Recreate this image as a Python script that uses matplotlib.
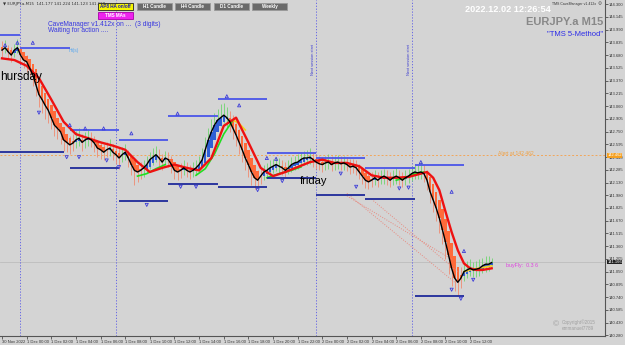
import matplotlib.pyplot as plt
import matplotlib.patches as mpatches
import matplotlib.transforms as mtransforms
import numpy as np

plt.rcParams['font.family'] = ['Liberation Sans', 'DejaVu Sans']

# M15 bars, index 0 = 30 Nov 22:00
closes = [143.74, 143.77, 143.72, 143.68, 143.74, 143.77, 143.68, 143.62, 143.60, 143.52,
          143.44, 143.32, 143.20, 143.14, 143.07, 143.01, 142.92, 142.83, 142.79, 142.75,
          142.65, 142.62, 142.59, 142.61, 142.65, 142.67, 142.62, 142.65, 142.67, 142.65,
          142.61, 142.55, 142.53, 142.50, 142.53, 142.55, 142.50, 142.47, 142.43, 142.47,
          142.50, 142.43, 142.35, 142.28, 142.26, 142.28, 142.31, 142.35, 142.41, 142.44,
          142.47, 142.43, 142.38, 142.43, 142.41, 142.35, 142.28, 142.26, 142.28, 142.31,
          142.28, 142.26, 142.28, 142.31, 142.35, 142.41, 142.53, 142.65, 142.75, 142.83,
          142.89, 142.92, 142.95, 142.92, 142.87, 142.79, 142.71, 142.62, 142.53, 142.43,
          142.35, 142.26, 142.19, 142.16, 142.21, 142.26, 142.28, 142.31, 142.33, 142.35,
          142.33, 142.31, 142.28, 142.31, 142.35, 142.37, 142.38, 142.41, 142.43, 142.43,
          142.44, 142.41, 142.38, 142.36, 142.35, 142.37, 142.38, 142.35, 142.37, 142.38,
          142.36, 142.37, 142.35, 142.32, 142.33, 142.31, 142.26, 142.21, 142.16, 142.14,
          142.16, 142.19, 142.16, 142.19, 142.21, 142.19, 142.16, 142.19, 142.21, 142.19,
          142.16, 142.19, 142.21, 142.24, 142.26, 142.25, 142.26, 142.24, 142.16, 142.02,
          141.92, 141.82, 141.70, 141.56, 141.41, 141.25, 141.09, 140.97, 140.92, 140.97,
          141.05, 141.07, 141.09, 141.07, 141.08, 141.09, 141.12, 141.14, 141.14, 141.16]
highs = [143.85, 143.86, 143.80, 143.78, 143.82, 143.88, 143.79, 143.71, 143.68, 143.63,
         143.55, 143.47, 143.35, 143.25, 143.20, 143.12, 143.05, 142.96, 142.90, 142.85,
         142.78, 142.72, 142.70, 142.72, 142.76, 142.80, 142.72, 142.74, 142.78, 142.75,
         142.70, 142.65, 142.62, 142.60, 142.62, 142.66, 142.60, 142.57, 142.55, 142.56,
         142.60, 142.53, 142.46, 142.40, 142.36, 142.38, 142.40, 142.45, 142.50, 142.55,
         142.58, 142.54, 142.48, 142.52, 142.50, 142.45, 142.38, 142.35, 142.37, 142.40,
         142.38, 142.35, 142.38, 142.41, 142.46, 142.55, 142.68, 142.80, 142.90, 142.98,
         143.02, 143.08, 143.10, 143.05, 143.00, 142.95, 142.85, 142.78, 142.68, 142.58,
         142.48, 142.40, 142.32, 142.28, 142.32, 142.35, 142.37, 142.40, 142.42, 142.44,
         142.43, 142.40, 142.38, 142.40, 142.44, 142.46, 142.48, 142.50, 142.52, 142.53,
         142.55, 142.50, 142.47, 142.45, 142.44, 142.46, 142.48, 142.45, 142.46, 142.47,
         142.45, 142.46, 142.44, 142.42, 142.42, 142.40, 142.36, 142.32, 142.27, 142.24,
         142.26, 142.28, 142.26, 142.28, 142.30, 142.28, 142.26, 142.28, 142.31, 142.28,
         142.26, 142.28, 142.30, 142.33, 142.36, 142.35, 142.38, 142.35, 142.28, 142.18,
         142.06, 141.96, 141.86, 141.72, 141.58, 141.42, 141.25, 141.12, 141.05, 141.10,
         141.16, 141.18, 141.20, 141.17, 141.18, 141.20, 141.22, 141.24, 141.24, 141.22]
lows = [143.66, 143.70, 143.64, 143.60, 143.66, 143.70, 143.60, 143.52, 143.48, 143.40,
        143.30, 143.18, 143.05, 142.98, 142.90, 142.85, 142.78, 142.70, 142.66, 142.60,
        142.52, 142.50, 142.48, 142.52, 142.55, 142.58, 142.52, 142.55, 142.58, 142.56,
        142.50, 142.44, 142.42, 142.40, 142.44, 142.46, 142.40, 142.36, 142.30, 142.38,
        142.40, 142.32, 142.22, 142.10, 142.14, 142.18, 142.20, 142.25, 142.30, 142.35,
        142.38, 142.33, 142.28, 142.34, 142.32, 142.25, 142.18, 142.16, 142.19, 142.22,
        142.20, 142.17, 142.20, 142.22, 142.26, 142.32, 142.40, 142.50, 142.62, 142.70,
        142.78, 142.82, 142.85, 142.80, 142.75, 142.66, 142.58, 142.48, 142.38, 142.28,
        142.20, 142.10, 142.05, 142.08, 142.12, 142.16, 142.20, 142.22, 142.25, 142.27,
        142.25, 142.22, 142.20, 142.23, 142.26, 142.28, 142.30, 142.32, 142.34, 142.35,
        142.36, 142.32, 142.30, 142.28, 142.26, 142.28, 142.30, 142.27, 142.29, 142.30,
        142.28, 142.29, 142.27, 142.24, 142.25, 142.22, 142.17, 142.12, 142.07, 142.05,
        142.08, 142.10, 142.08, 142.11, 142.12, 142.10, 142.08, 142.10, 142.12, 142.10,
        142.08, 142.10, 142.13, 142.15, 142.18, 142.17, 142.18, 142.14, 142.04, 141.88,
        141.78, 141.66, 141.52, 141.38, 141.20, 141.02, 140.88, 140.82, 140.77, 140.85,
        140.94, 140.97, 141.00, 140.98, 140.99, 141.00, 141.03, 141.05, 141.06, 141.12]

# slow moving average (red)
slow_x = [0, 4, 8, 12, 16, 20, 24, 28, 32, 36, 40, 44, 48, 52, 56, 60, 64, 68, 72, 76,
          80, 84, 88, 92, 96, 100, 104, 108, 112, 116, 120, 124, 128, 132, 136, 138, 140,
          142, 144, 146, 148, 150, 152, 154, 156, 159]
slow_y = [143.64, 143.62, 143.55, 143.40, 143.14, 142.87, 142.72, 142.67, 142.62, 142.58,
          142.53, 142.38, 142.26, 142.31, 142.35, 142.31, 142.28, 142.43, 142.82, 142.92,
          142.62, 142.31, 142.21, 142.26, 142.32, 142.38, 142.41, 142.37, 142.37, 142.33,
          142.22, 142.19, 142.19, 142.20, 142.24, 142.26, 142.19, 142.04, 141.78, 141.53,
          141.31, 141.15, 141.09, 141.07, 141.07, 141.09]

# medium moving average, shown only where it is visible (green rising, yellow falling)
green_x = [[44, 47, 50, 53], [63, 66, 69, 72, 75], [86, 90, 94, 97], [128, 131, 134, 137]]
green_y = [[142.21, 142.24, 142.30, 142.35], [142.22, 142.30, 142.48, 142.72, 142.89],
           [142.19, 142.24, 142.28, 142.32], [142.16, 142.19, 142.24, 142.26]]
yellow_x = [[75, 77, 79], [150, 153, 156, 159]]
yellow_y = [[142.89, 142.85, 142.77], [141.05, 141.08, 141.10, 141.12]]

# 4h high/low levels
lvl_x0 = [-1, 6, 22, 22, -1, 38, 38, 54, 54, 70, 70, 86, 86, 102, 102, 118, 118, 134, 134]
lvl_x1 = [6, 22, 38, 38, 20, 54, 54, 70, 70, 86, 86, 102, 102, 118, 118, 134, 134, 150, 150]
lvl_y = [143.92, 143.77, 142.77, 142.31, 142.50, 142.65, 141.91, 142.94, 142.11, 143.15,
         142.08, 142.49, 142.19, 142.43, 141.98, 142.31, 141.93, 142.35, 140.75]
lvl_top = [1, 1, 1, 0, 0, 1, 0, 1, 0, 1, 0, 1, 0, 1, 0, 1, 0, 1, 0]

# fractal arrows
up_x = [1, 5, 10, 22, 27, 33, 42, 57, 73, 77, 86, 89, 136, 146, 150]
up_y = [143.80, 143.83, 143.83, 142.83, 142.79, 142.79, 142.73, 142.97, 143.18, 143.07,
        142.43, 142.42, 142.38, 142.02, 141.30]
dn_x = [12, 21, 25, 34, 38, 47, 58, 63, 83, 91, 110, 115, 129, 132, 146, 149, 153]
dn_y = [142.98, 142.44, 142.44, 142.40, 142.32, 141.86, 142.08, 142.08, 142.04, 142.15,
        142.24, 142.08, 142.06, 142.07, 140.83, 140.72, 140.95]

session_x = [6, 37, 102, 133]
alert_price = 142.462
last_price = 141.166

ytick_labels = ['144.300', '144.145', '143.990', '143.835', '143.680', '143.525', '143.370',
                '143.215', '143.060', '142.905', '142.750', '142.595', '142.440', '142.285',
                '142.130', '141.980', '141.825', '141.670', '141.515', '141.360', '141.205',
                '141.050', '140.895', '140.740', '140.585', '140.430', '140.280']
xtick_bars = list(range(0, 153, 8))
xtick_labels = ['30 Nov 2022'] + ['1 Dec %02d:00' % h for h in range(0, 24, 2)] + \
               ['2 Dec %02d:00' % h for h in range(0, 14, 2)]

bg = '#d4d4d4'
fig = plt.figure(figsize=(6.25, 3.45), dpi=100, facecolor=bg)
ax = fig.add_axes([0, 9 / 345, 605 / 625, 336 / 345], facecolor=bg)

n = len(closes)
bars = np.arange(n)
c = np.array(closes)
ha_open = np.empty(n)
ha_open[0] = c[0] + 0.04
for i in range(1, n):
    ha_open[i] = (ha_open[i - 1] + c[i - 1]) / 2
up = c >= ha_open

ax.axhline(last_price, color='#bdbdbd', lw=0.6, zorder=1)
ax.axhline(alert_price, color='#f2a65a', lw=0.7, ls=(0, (2, 2)), zorder=1)
for b in session_x:
    ax.axvline(b, color='#5a5ae6', lw=0.6, ls=(0, (1.5, 2)), zorder=1)

ax.vlines(bars, lows, highs, colors=np.where(up, '#6fd46f', '#f08a70'), lw=0.6, zorder=2)
ax.bar(bars, c - ha_open, bottom=ha_open, width=0.8,
       color=np.where(up, '#2f5fd6', '#ff6a3a'), linewidth=0, zorder=3)

# projection dots in the drop
ax.plot([112, 147], [142.00, 140.92], color='#e88a80', lw=0.7, ls=(0, (1, 1.5)), zorder=3)
ax.plot([112, 146], [141.97, 141.20], color='#e88a80', lw=0.7, ls=(0, (1, 1.5)), zorder=3)
ax.plot([120, 148], [141.93, 141.05], color='#e88a80', lw=0.7, ls=(0, (1, 1.5)), zorder=3)

for xs, ys in zip(green_x, green_y):
    ax.plot(xs, ys, color='#22dd22', lw=1.2, zorder=4)
for xs, ys in zip(yellow_x, yellow_y):
    ax.plot(xs, ys, color='#f5d020', lw=1.2, zorder=4)
ax.plot(slow_x, slow_y, color='#ee1111', lw=1.7, zorder=5)
ax.plot(bars, c, color='black', lw=1.0, zorder=6)

for x0, x1, y, top in zip(lvl_x0, lvl_x1, lvl_y, lvl_top):
    ax.hlines(y, x0, x1, colors='#4a55e8' if top else '#1f2a9a', lw=1.3, zorder=4)

ax.scatter(up_x, up_y, marker='^', s=5, facecolors='none', edgecolors='#3d3dd8', lw=0.6, zorder=7)
ax.scatter(dn_x, dn_y, marker='v', s=5, facecolors='none', edgecolors='#3d3dd8', lw=0.6, zorder=7)

ax.set_xlim(-0.65, 195.8)
ax.set_ylim(140.268, 144.349)
ax.yaxis.tick_right()
ax.set_yticks([float(t) for t in ytick_labels])
ax.set_yticklabels(ytick_labels)
ax.set_xticks(xtick_bars)
ax.set_xticklabels(xtick_labels)
for lbl in ax.get_xticklabels():
    lbl.set_ha('left')
ax.tick_params(axis='both', labelsize=3.0, length=2, width=0.5, colors='#333333', pad=0.8)
for side in ['top', 'left']:
    ax.spines[side].set_visible(False)
for side in ['right', 'bottom']:
    ax.spines[side].set_color('#555555')
    ax.spines[side].set_linewidth(0.8)

trans = mtransforms.blended_transform_factory(ax.transAxes, ax.transData)
ax.text(1.004, alert_price, '142.462', transform=trans, fontsize=2.9, color='white', va='center',
        ha='left', bbox=dict(boxstyle='square,pad=0.05', fc='#f5a020', ec='none'), zorder=8)
ax.text(1.004, last_price, '141.166', transform=trans, fontsize=2.9, color='white', va='center',
        ha='left', bbox=dict(boxstyle='square,pad=0.05', fc='#202020', ec='none'), zorder=8)

for b in session_x[2:]:
    ax.text(b - 0.3, 143.62, 'Next session start', rotation=90, fontsize=2.8, color='#3a3ad0',
            ha='right', va='center')
ax.text(21.5, 143.74, 'Hi(s)', fontsize=3.6, color='#5aa8f0', va='center')
ax.text(161, alert_price + 0.02, 'Alert at 142.462', fontsize=3.6, color='#f0a040', va='center')
ax.text(163.5, 141.12, 'buyFly:  0.3 6', fontsize=3.8, color='#e040e0', va='center')


def px(x, y):
    return x / 625, 1 - y / 345


def button(x0, y0, w, h, label, fc, tc, ec):
    fig.patches.append(mpatches.Rectangle(px(x0, y0 + h), w / 625, h / 345, transform=fig.transFigure,
                                          fc=fc, ec=ec, lw=0.6, zorder=10))
    fig.text(*px(x0 + w / 2, y0 + h / 2), label, fontsize=3.3, color=tc, weight='bold',
             ha='center', va='center', zorder=11)


button(98, 3, 35, 6.5, 'AP8 HA on/off', '#f5f500', '#1a1ab0', '#222222')
button(98, 12, 35, 6.5, 'TMS MAs', '#ee22ee', 'white', '#aa00aa')
for x0, lab in [(137, 'H1 Candle'), (175, 'H4 Candle'), (214, 'D1 Candle'), (252, 'Weekly')]:
    button(x0, 3, 35, 6.5, lab, '#6a6a6a', 'white', '#9a9a9a')

fig.text(*px(3, 4), '\u25bc EURJPY.a,M15  141.177 141.224 141.123 141.160', fontsize=2.9,
         color='#333333', va='center', ha='left', family=['DejaVu Sans'])
fig.text(*px(48, 24), 'CaveManager v1.412x on ...  (3 digits)', fontsize=4.8, color='#3838e0',
         va='center')
fig.text(*px(48, 31), 'Waiting for action ....', fontsize=4.8, color='#3838e0', va='center')
fig.text(*px(0, 77), 'hursday', fontsize=8.5, color='black', va='center')
fig.text(*px(300, 181), 'friday', fontsize=8, color='black', va='center')
fig.text(*px(508, 9), '2022.12.02 12:26:54', fontsize=6.6, color='white', weight='bold',
         ha='center', va='center')
fig.text(*px(596, 3.5), 'TMS CaveManager v1.412x', fontsize=2.5, color='#333333',
         ha='right', va='center')
fig.text(*px(600, 3.5), '\u2699', fontsize=3.3, color='#555555', ha='center', va='center',
         family=['DejaVu Sans'])
fig.text(*px(603, 22), 'EURJPY.a M15', fontsize=8, color='#888888', weight='bold',
         ha='right', va='center')
fig.text(*px(603, 34), '"TMS 5-Method"', fontsize=5.5, color='#2a2ae8', ha='right', va='center')
fig.text(*px(556, 325), '\u00a9', fontsize=6, color='#a0a0a0', ha='center', va='center')
fig.text(*px(562, 322), 'Copyright\u00a92015', fontsize=3.3, color='#a0a0a0', va='center')
fig.text(*px(562, 328), 'emmanuel7789', fontsize=3.3, color='#a0a0a0', va='center')

fig.savefig('out.png', dpi=100, facecolor=bg)
